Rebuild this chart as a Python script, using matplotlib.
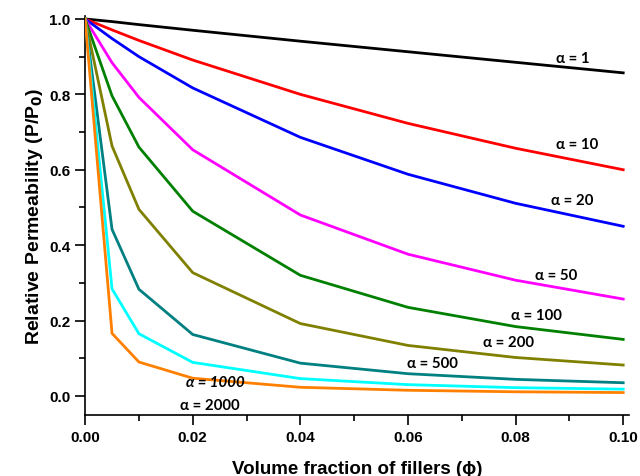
import matplotlib
matplotlib.use("Agg")
import matplotlib.pyplot as plt
from matplotlib.ticker import MultipleLocator

# volume fraction of fillers
phi = [0.0, 0.005, 0.01, 0.02, 0.04, 0.06, 0.08, 0.10]

# relative permeability, one list per aspect ratio
p_a1 = [1.0, 0.993, 0.985, 0.970, 0.941, 0.913, 0.885, 0.857]
p_a10 = [1.0, 0.971, 0.943, 0.891, 0.800, 0.723, 0.657, 0.600]
p_a20 = [1.0, 0.948, 0.900, 0.817, 0.686, 0.588, 0.511, 0.450]
p_a50 = [1.0, 0.884, 0.792, 0.653, 0.480, 0.376, 0.307, 0.257]
p_a100 = [1.0, 0.796, 0.660, 0.490, 0.320, 0.235, 0.184, 0.150]
p_a200 = [1.0, 0.663, 0.495, 0.327, 0.192, 0.134, 0.102, 0.082]
p_a500 = [1.0, 0.442, 0.283, 0.163, 0.087, 0.059, 0.044, 0.035]
p_a1000 = [1.0, 0.284, 0.165, 0.089, 0.046, 0.030, 0.022, 0.018]
p_a2000 = [1.0, 0.166, 0.090, 0.047, 0.023, 0.015, 0.011, 0.009]

labels = ["α = 1", "α = 10", "α = 20", "α = 50", "α = 100",
          "α = 200", "α = 500", "α = 1000", "α = 2000"]
series = [p_a1, p_a10, p_a20, p_a50, p_a100, p_a200, p_a500, p_a1000, p_a2000]
colors = ["black", "#ff0000", "#0000ff", "#ff00ff", "#008000",
          "#808000", "#008080", "#00ffff", "#ff8000"]
# where each curve's label sits (data coords)
label_pos = [(0.0907, 0.897), (0.0914, 0.668), (0.0905, 0.520), (0.0875, 0.321),
             (0.0838, 0.215), (0.0786, 0.143), (0.0645, 0.0875), (0.0242, 0.037),
             (0.0232, -0.024)]

plt.rcParams['font.family'] = ['Liberation Sans', 'DejaVu Sans']

fig = plt.figure(figsize=(6.4, 4.77), dpi=100)
ax = fig.add_axes([0.133, 0.128, 0.850, 0.8365])

for y, c in zip(series, colors):
    ax.plot(phi, y, color=c, lw=2.0, zorder=3)

for lab, (x, y), c in zip(labels, label_pos, colors):
    style = 'italic' if lab == "α = 1000" else 'normal'
    ax.text(x, y, lab, ha='center', va='center', fontsize=10.8,
            fontweight='bold', fontstyle=style, family=['Lato', 'DejaVu Sans'])

ax.set_xlim(0, 0.1011)
ax.set_ylim(-0.0504, 1.008)
ax.spines['top'].set_visible(False)
ax.spines['right'].set_visible(False)
ax.spines['left'].set_linewidth(1.2)
ax.spines['bottom'].set_linewidth(1.2)

ax.xaxis.set_minor_locator(MultipleLocator(0.01))
ax.yaxis.set_minor_locator(MultipleLocator(0.1))
ax.set_xticks([0, 0.02, 0.04, 0.06, 0.08, 0.10])
ax.set_xticklabels(["0.00", "0.02", "0.04", "0.06", "0.08", "0.10"])
ax.set_yticks([0.0, 0.2, 0.4, 0.6, 0.8, 1.0])
ax.set_yticklabels(["0.0", "0.2", "0.4", "0.6", "0.8", "1.0"])
ax.tick_params(which='major', direction='out', length=7, width=1.2, labelsize=11)
ax.tick_params(which='minor', direction='out', length=4, width=1.2)
for t in ax.get_xticklabels() + ax.get_yticklabels():
    t.set_fontweight('bold')

ax.set_xlabel("Volume fraction of fillers (ϕ)", fontsize=13.5, fontweight='bold', labelpad=12)
ax.set_ylabel("Relative Permeability (P/P$_\\mathbf{0}$)", fontsize=14, fontweight='bold', labelpad=3)

fig.savefig("out.png", dpi=100)
